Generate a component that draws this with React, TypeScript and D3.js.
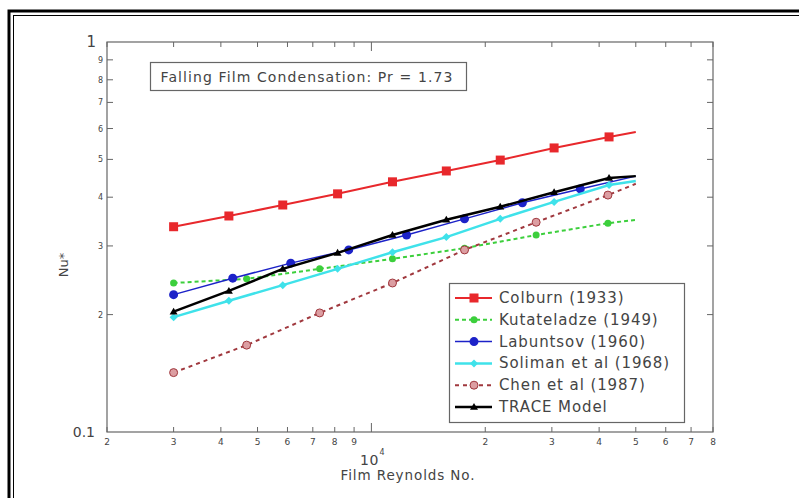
import React from "react";
import { scaleLog, line } from "d3";

// Film Reynolds number (x) and Nu* (y), per series
const colburnRe = [3000, 4200, 5830, 8140, 11370, 15780, 21910, 30410, 42490, 50000];
const colburnNu = [0.336, 0.358, 0.382, 0.408, 0.438, 0.467, 0.498, 0.535, 0.571, 0.588];

const kutateladzeRe = [3000, 4680, 7300, 11370, 17630, 27260, 42200, 50000];
const kutateladzeNu = [0.241, 0.247, 0.262, 0.278, 0.296, 0.32, 0.343, 0.35];

const labuntsovRe = [3000, 4300, 6120, 8710, 12390, 17630, 25070, 35660, 50000];
const labuntsovNu = [0.225, 0.248, 0.271, 0.293, 0.32, 0.352, 0.387, 0.42, 0.453];

const solimanRe = [3000, 4200, 5830, 8140, 11370, 15780, 21910, 30410, 42490, 50000];
const solimanNu = [0.197, 0.217, 0.238, 0.262, 0.289, 0.316, 0.352, 0.389, 0.43, 0.44];

const chenRe = [3000, 4680, 7300, 11370, 17630, 27260, 42200, 50000];
const chenNu = [0.142, 0.167, 0.202, 0.241, 0.293, 0.345, 0.405, 0.433];

const traceRe = [3000, 4200, 5830, 8140, 11370, 15780, 21910, 30410, 42490, 50000];
const traceNu = [0.2035, 0.23, 0.262, 0.288, 0.32, 0.35, 0.378, 0.412, 0.448, 0.453];

const seriesNames = [
  "Colburn (1933)",
  "Kutateladze (1949)",
  "Labuntsov (1960)",
  "Soliman et al (1968)",
  "Chen et al (1987)",
  "TRACE Model",
];

const xMinorTicks = [2000, 3000, 4000, 5000, 6000, 7000, 8000, 9000, 20000, 30000, 40000, 50000, 60000, 70000, 80000];
const xMinorLabels = ["2", "3", "4", "5", "6", "7", "8", "9", "2", "3", "4", "5", "6", "7", "8"];
const yMinorTicks = [0.2, 0.3, 0.4, 0.5, 0.6, 0.7, 0.8, 0.9];
const yMinorLabels = ["2", "3", "4", "5", "6", "7", "8", "9"];

type Series = {
  name: string;
  re: number[];
  nu: number[];
  color: string;
  markerFill: string;
  width: number;
  dash?: string;
  marker: "square" | "circle" | "diamond" | "triangle";
  size: number;
};

const series: Series[] = [
  { name: seriesNames[0], re: colburnRe, nu: colburnNu, color: "#e8282c", markerFill: "#e8282c", width: 2, marker: "square", size: 9 },
  { name: seriesNames[1], re: kutateladzeRe, nu: kutateladzeNu, color: "#3ccf3c", markerFill: "#3ccf3c", width: 2, dash: "4,3", marker: "circle", size: 7 },
  { name: seriesNames[2], re: labuntsovRe, nu: labuntsovNu, color: "#1c22c8", markerFill: "#1c22c8", width: 1.5, marker: "circle", size: 9 },
  { name: seriesNames[3], re: solimanRe, nu: solimanNu, color: "#3fe2ea", markerFill: "#3fe2ea", width: 2.5, marker: "diamond", size: 8 },
  { name: seriesNames[4], re: chenRe, nu: chenNu, color: "#a0383e", markerFill: "#dc9ea2", width: 2, dash: "4,4", marker: "circle", size: 8 },
  { name: seriesNames[5], re: traceRe, nu: traceNu, color: "#000000", markerFill: "#000000", width: 2.5, marker: "triangle", size: 8 },
];

const FONT = "'DejaVu Sans', Verdana, sans-serif";
const AXIS = "#666";
const TEXT = "#444";

function Marker({ s, x, y }: { s: Series; x: number; y: number }) {
  const h = s.size / 2;
  if (s.marker === "square")
    return <rect x={x - h} y={y - h} width={s.size} height={s.size} fill={s.markerFill} />;
  if (s.marker === "circle")
    return <circle cx={x} cy={y} r={h} fill={s.markerFill} stroke={s.color} strokeWidth={s.markerFill === s.color ? 0 : 1} />;
  if (s.marker === "diamond")
    return <path d={`M${x},${y - h}L${x + h},${y}L${x},${y + h}L${x - h},${y}Z`} fill={s.markerFill} />;
  return <path d={`M${x},${y - h}L${x + h},${y + h * 0.7}L${x - h},${y + h * 0.7}Z`} fill={s.markerFill} />;
}

export default function App() {
  const W = 799;
  const H = 498;
  const x = scaleLog().domain([2000, 80000]).range([107, 713]);
  const y = scaleLog().domain([0.1, 1]).range([432, 42]);
  const [x0, x1] = x.range();
  const [y0, y1] = y.range();

  const lineGen = line<[number, number]>()
    .x((d) => x(d[0]))
    .y((d) => y(d[1]));

  const legendX = 449;
  const legendY = 283;

  return (
    <svg width={W} height={H} style={{ position: "absolute", left: 0, top: 0, background: "#fff" }}>
      {/* double frame */}
      <rect x={9} y={11} width={900} height={600} fill="none" stroke="#000" strokeWidth={3} />
      <rect x={13.5} y={15.5} width={900} height={600} fill="none" stroke="#000" strokeWidth={1} />

      {/* axes box */}
      <rect x={x0} y={y1} width={x1 - x0} height={y0 - y1} fill="none" stroke={AXIS} strokeWidth={1.2} />

      {/* x ticks */}
      {xMinorTicks.map((t, i) => (
        <g key={"xt" + i}>
          <line x1={x(t)} x2={x(t)} y1={y0} y2={y0 - 5} stroke={AXIS} />
          <line x1={x(t)} x2={x(t)} y1={y1} y2={y1 + 5} stroke={AXIS} />
          <text x={x(t)} y={y0 + 13} fontSize={9} fontFamily={FONT} fill={TEXT} textAnchor="middle">
            {xMinorLabels[i]}
          </text>
        </g>
      ))}
      <line x1={x(10000)} x2={x(10000)} y1={y0} y2={y0 - 9} stroke={AXIS} />
      <line x1={x(10000)} x2={x(10000)} y1={y1} y2={y1 + 9} stroke={AXIS} />
      <text x={x(10000) - 2} y={y0 + 33} fontSize={14} fontFamily={FONT} fill={TEXT} textAnchor="middle" letterSpacing={0.5}>
        10
      </text>
      <text x={x(10000) + 8} y={y0 + 23} fontSize={8} fontFamily={FONT} fill={TEXT}>
        4
      </text>
      <text x={408} y={y0 + 48} fontSize={13.5} fontFamily={FONT} fill={TEXT} textAnchor="middle" letterSpacing={0.9}>
        Film Reynolds No.
      </text>

      {/* y ticks */}
      {yMinorTicks.map((t, i) => (
        <g key={"yt" + i}>
          <line x1={x0} x2={x0 + 6} y1={y(t)} y2={y(t)} stroke={AXIS} />
          <line x1={x1} x2={x1 - 6} y1={y(t)} y2={y(t)} stroke={AXIS} />
          <text x={x0 - 4} y={y(t) + 3} fontSize={8} fontFamily={FONT} fill={TEXT} textAnchor="end">
            {yMinorLabels[i]}
          </text>
        </g>
      ))}
      <text x={x0 - 11} y={y1 + 5} fontSize={15} fontFamily={FONT} fill={TEXT} textAnchor="end">
        1
      </text>
      <text x={x0 - 12} y={y0 + 5} fontSize={14} fontFamily={FONT} fill={TEXT} textAnchor="end">
        0.1
      </text>
      <text
        transform={`translate(${x0 - 39},${(y0 + y1) / 2 + 28}) rotate(-90)`}
        fontSize={13}
        fontFamily={FONT}
        fill={TEXT}
        textAnchor="middle"
      >
        Nu*
      </text>

      {/* title box */}
      <rect x={150.5} y={62.5} width={316} height={28} fill="#fff" stroke={AXIS} strokeWidth={1.2} />
      <text x={307} y={81.5} fontSize={14} fontFamily={FONT} fill={TEXT} textAnchor="middle" letterSpacing={1.1}>
        Falling Film Condensation: Pr = 1.73
      </text>

      {/* series */}
      {series.map((s) => {
        const pts = s.re.map((r, i) => [r, s.nu[i]] as [number, number]);
        return (
          <g key={s.name}>
            <path d={lineGen(pts) || ""} fill="none" stroke={s.color} strokeWidth={s.width} strokeDasharray={s.dash} />
            {pts.slice(0, -1).map((p, i) => (
              <Marker key={i} s={s} x={x(p[0])} y={y(p[1])} />
            ))}
          </g>
        );
      })}

      {/* legend */}
      <rect x={legendX + 0.5} y={legendY + 0.5} width={235} height={139} fill="#fff" stroke={AXIS} strokeWidth={1.2} />
      {series.map((s, i) => {
        const ly = legendY + 15 + i * 21.8;
        return (
          <g key={"lg" + i}>
            <line x1={legendX + 6} x2={legendX + 43} y1={ly} y2={ly} stroke={s.color} strokeWidth={s.width} strokeDasharray={s.dash} />
            <Marker s={s} x={legendX + 25} y={ly} />
            <text x={legendX + 50} y={ly + 5} fontSize={15} fontFamily={FONT} fill={TEXT} letterSpacing={0.9}>
              {s.name}
            </text>
          </g>
        );
      })}
    </svg>
  );
}
